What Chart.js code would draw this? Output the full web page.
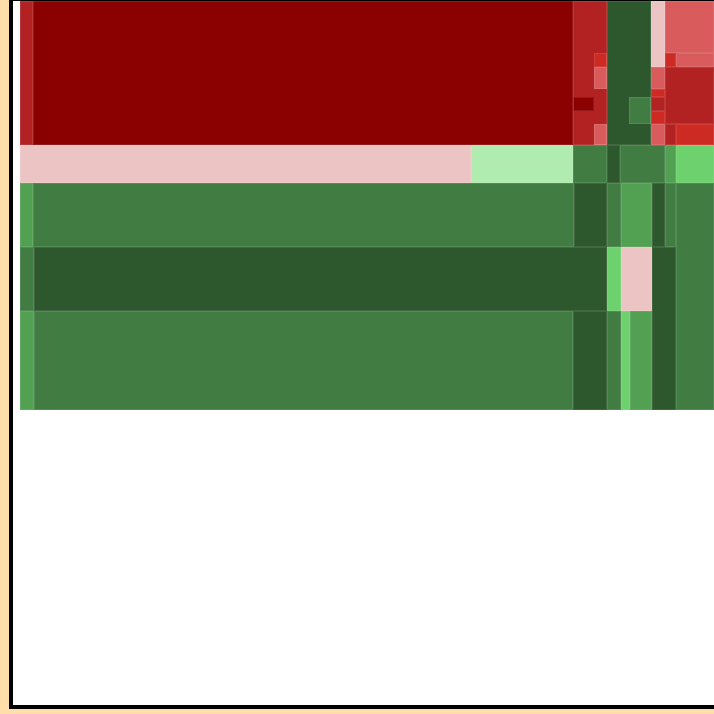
<!DOCTYPE html>
<html>
<head>
<meta charset="utf-8">
<script src="https://cdn.jsdelivr.net/npm/chart.js@4/dist/chart.umd.min.js"></script>
<style>
  html, body { margin: 0; padding: 0; background: #ffdeaa; }
  #wrap { width: 714px; height: 714px; }
</style>
</head>
<body>
<div id="wrap"><canvas id="c" width="714" height="714"></canvas></div>
<script>
// Treemap cell extents (value space: x 0..701, y 0..704, y grows downward)
const cellLeft   = [7,20,560,581,581,560,581,594,616,638,638,638,638,638,638,652,652,663,652,652,663,
                    7,458,560,594,607,652,663,
                    7,20,561,594,608,639,652,663,
                    7,21,594,608,639,
                    7,21,560,594,608,617];
const cellRight  = [20,560,594,594,594,581,594,638,638,652,652,652,652,652,652,701,663,701,701,663,701,
                    458,560,594,607,652,663,701,
                    20,561,594,608,639,652,663,701,
                    21,594,608,639,663,
                    21,560,594,608,617,639];
const cellTop    = [0,0,0,52,66,96,123,0,96,0,66,88,96,110,123,0,52,52,66,123,123,
                    144,144,144,144,144,144,144,
                    182,182,182,182,182,182,182,182,
                    246,246,246,246,246,
                    310,310,310,310,310,310];
const cellBottom = [144,144,144,66,88,110,144,144,123,66,88,96,110,123,144,52,66,66,123,144,144,
                    182,182,182,182,182,182,182,
                    246,246,246,246,246,246,246,409,
                    310,310,310,310,409,
                    409,409,409,409,409,409];
const cellShade  = [1,0,1,2,3,0,3,9,8,4,3,2,1,2,3,3,2,3,1,1,2,
                    4,5,8,9,8,7,6,
                    7,8,9,8,7,9,8,8,
                    8,9,6,4,9,
                    7,8,9,8,6,7];
const palette = ['#8b0000','#b22222','#cc2a22','#d95b5b','#ecc4c4',
                 '#b0ebb0','#6dd26d','#52a052','#417d42','#2d572c'];

const treemapPlugin = {
  id: 'treemapCells',
  beforeDatasetsDraw(chart) {
    const ctx = chart.ctx, xs = chart.scales.x, ys = chart.scales.y, a = chart.chartArea;
    ctx.save();
    ctx.fillStyle = '#ffffff';
    ctx.fillRect(a.left, a.top, a.right - a.left, a.bottom - a.top);
    for (let i = 0; i < cellLeft.length; i++) {
      const x0 = xs.getPixelForValue(cellLeft[i]);
      const x1 = xs.getPixelForValue(cellRight[i]);
      const y0 = ys.getPixelForValue(cellTop[i]);
      const y1 = ys.getPixelForValue(cellBottom[i]);
      ctx.fillStyle = palette[cellShade[i]];
      ctx.fillRect(x0, y0, x1 - x0, y1 - y0);
    }
    for (let i = 0; i < cellLeft.length; i++) {
      const x0 = xs.getPixelForValue(cellLeft[i]);
      const x1 = xs.getPixelForValue(cellRight[i]);
      const y0 = ys.getPixelForValue(cellTop[i]);
      const y1 = ys.getPixelForValue(cellBottom[i]);
      ctx.strokeStyle = 'rgba(255,255,255,0.1)';
      ctx.lineWidth = 1;
      ctx.strokeRect(x0 + 0.5, y0 + 0.5, x1 - x0 - 1, y1 - y0 - 1);
    }
    // frame
    ctx.fillStyle = '#000000';
    ctx.fillRect(a.left - 4, a.top - 4, 4, a.bottom - a.top + 8);
    ctx.fillRect(a.left - 4, a.bottom, a.right - a.left + 8, 4);
    ctx.fillRect(a.left - 4, a.top - 4, a.right - a.left + 8, 4);
    ctx.restore();
  }
};

new Chart(document.getElementById('c'), {
  type: 'scatter',
  data: { datasets: [{ data: [], pointRadius: 0 }] },
  options: {
    responsive: false,
    animation: false,
    layout: { padding: { left: 13, top: 1, right: 0, bottom: 9 } },
    plugins: { legend: { display: false }, tooltip: { enabled: false } },
    scales: {
      x: { type: 'linear', display: false, min: 0, max: 701 },
      y: { type: 'linear', display: false, min: 0, max: 704, reverse: true }
    }
  },
  plugins: [treemapPlugin]
});
</script>
</body>
</html>
